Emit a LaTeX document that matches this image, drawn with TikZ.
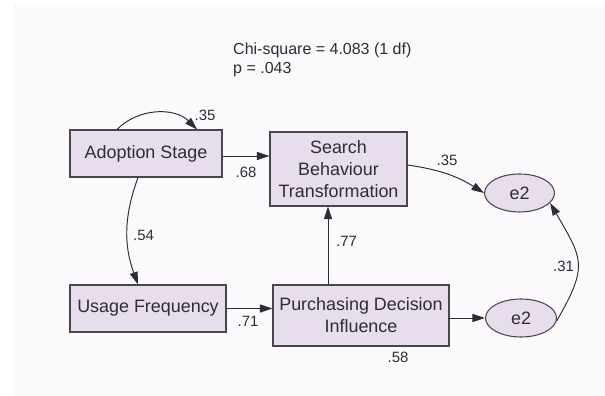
\documentclass[tikz,border=0pt]{standalone}
\usepackage{fontspec}
\setmainfont{Liberation Sans}
\usetikzlibrary{arrows.meta,positioning,shapes.geometric}
\definecolor{lilac}{RGB}{232,221,237}
\definecolor{frame}{RGB}{72,72,76}
\definecolor{ink}{RGB}{45,45,50}
\definecolor{paper}{RGB}{251,249,252}
\tikzset{
  >={Triangle[length=2.5mm,width=1.6mm]},
  var/.style={draw=frame,fill=lilac,line width=0.6pt,minimum width=#1,minimum height=9.4mm,
    inner sep=2pt,align=center,text=ink,font=\fontsize{10.2}{12.5}\selectfont},
  var/.default=30mm,
  err/.style={ellipse,draw=frame,fill=lilac,line width=0.6pt,minimum width=14mm,minimum height=7.6mm,
    inner sep=1pt,text=ink,font=\fontsize{10.2}{12.5}\selectfont},
  path/.style={->,line width=0.55pt,draw=ink},
  coef/.style={font=\fontsize{8.5}{10}\selectfont,text=ink},
  fit stat/.style={anchor=west,font=\fontsize{9.1}{11}\selectfont,text=ink},
}

\begin{document}
\begin{tikzpicture}
    \useasboundingbox (0,0) rectangle (12.1,7.92);
    \fill[white] (0,0) rectangle (12.1,7.92);
    \fill[paper] (0.26,0) rectangle (12.1,7.82);
    % fit statistics
    \node[fit stat] (chi) at (4.54,6.92) {Chi-square = 4.083 (1 df)};
    \node[fit stat] (pval) at (4.54,6.52) {p = .043};
    % observed variables
    \node[var=30.4mm] (as) at (2.92,4.85) {Adoption Stage};
    \node[var=27.4mm,minimum height=14.8mm] (sbt) at (6.77,4.54) {Search\\Behaviour\\Transformation};
    \node[var=31.2mm] (uf) at (2.96,1.75) {Usage Frequency};
    \node[var=35.2mm,minimum height=12.2mm] (pdi) at (7.22,1.61) {Purchasing Decision\\Influence};
    % error terms
    \node[err] (e2t) at (10.39,4.06) {e2};
    \node[err,minimum width=14.2mm] (e2b) at (10.42,1.56) {e2};
    % paths
    \draw[path] ([xshift=-0.58cm]as.north) to[bend left=45] ([xshift=1.02cm]as.north);
    \draw[path] ([yshift=-0.05cm]as.east) -- ([yshift=-0.05cm]as.east -| sbt.west);
    \draw[path] ([xshift=-0.16cm]as.south) to[bend right=20] ([xshift=-0.16cm]as.south |- uf.north);
    \draw[path] (uf.east) -- (uf.east -| pdi.west);
    \draw[path] ([xshift=-0.66cm]pdi.north) -- ([xshift=-0.66cm]pdi.north |- sbt.south);
    \draw[path] ([yshift=0.08cm]sbt.east) to[bend left=12] (e2t.west);
    \draw[path] (e2b.west -| pdi.east) -- (e2b.west);
    \draw[path] (e2b.-5) to[out=60,in=-60,looseness=1.4] (e2t.-18);
    % coefficients
    \node[coef] (c35a) at (4.10,5.62) {.35};
    \node[coef] (c68) at (4.92,4.48) {.68};
    \node[coef] (c35b) at (8.94,4.72) {.35};
    \node[coef] (c54) at (2.87,3.22) {.54};
    \node[coef] (c77) at (6.93,3.10) {.77};
    \node[coef] (c71) at (4.96,1.50) {.71};
    \node[coef] (c58) at (7.96,0.78) {.58};
    \node[coef] (c31) at (11.27,2.60) {.31};
  \end{tikzpicture}
\end{document}
